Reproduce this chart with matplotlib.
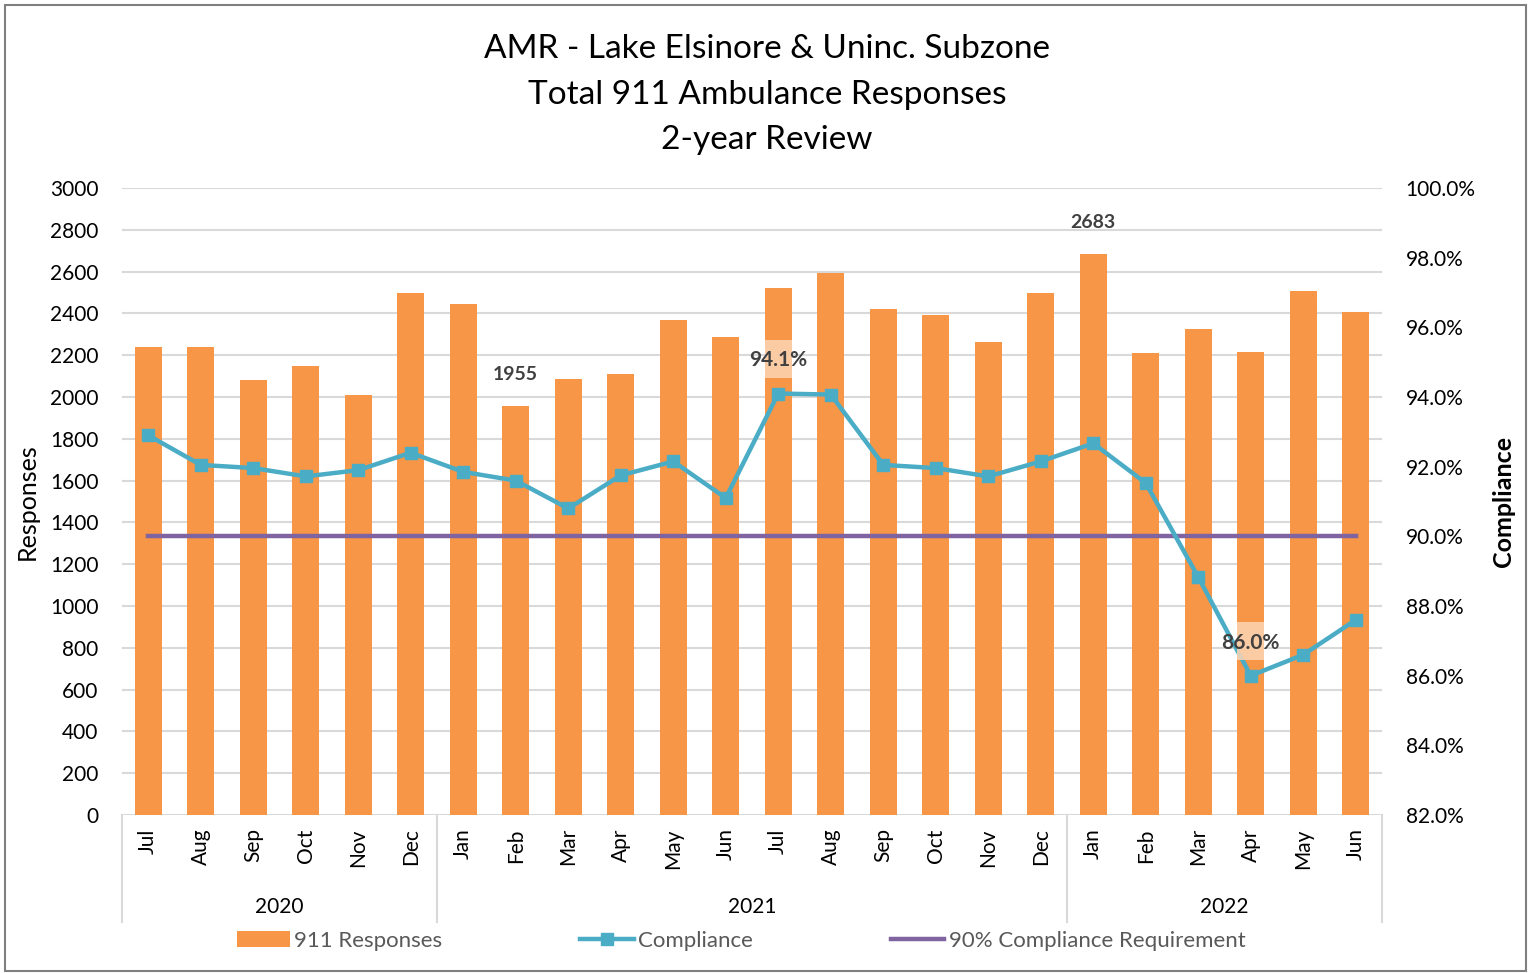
import matplotlib
matplotlib.use("Agg")
import matplotlib.pyplot as plt
from matplotlib.patches import Rectangle, Patch
from matplotlib.lines import Line2D
import matplotlib.transforms as mtransforms

plt.rcParams['font.family'] = ['Lato', 'DejaVu Sans']

months = ["Jul", "Aug", "Sep", "Oct", "Nov", "Dec",
          "Jan", "Feb", "Mar", "Apr", "May", "Jun", "Jul", "Aug", "Sep", "Oct", "Nov", "Dec",
          "Jan", "Feb", "Mar", "Apr", "May", "Jun"]
years = ["2020", "2021", "2022"]
year_counts = [6, 12, 6]
responses = [2240, 2240, 2080, 2150, 2010, 2500,
             2445, 1955, 2086, 2110, 2370, 2285, 2522, 2593, 2422, 2392, 2265, 2500,
             2683, 2210, 2325, 2215, 2507, 2407]
compliance = [92.9, 92.05, 91.96, 91.72, 91.9, 92.4,
              91.85, 91.6, 90.8, 91.75, 92.15, 91.1, 94.1, 94.07, 92.05, 91.96, 91.72, 92.15,
              92.67, 91.53, 88.83, 86.0, 86.6, 87.6]
requirement = [90.0] * 24
bar_labels = {7: "1955", 18: "2683"}
pct_labels = {12: "94.1%", 21: "86.0%"}

ORANGE = "#F79646"
BLUE = "#4BACC6"
PURPLE = "#8064A2"
TXT = "#000000"
LBL = "#404040"

fig = plt.figure(figsize=(15.28, 9.73), dpi=100)
ax = fig.add_axes([122/1528, 1-815/973, 1260/1528, 627/973])
ax2 = ax.twinx()

x = list(range(len(months)))
ax.bar(x, responses, width=0.51, color=ORANGE, zorder=2)
ax.set_xlim(-0.5, len(months)-0.5)
ax.set_ylim(0, 3000)
ax.set_yticks(range(0, 3001, 200))
ax.grid(axis='y', color='#D9D9D9', linewidth=1.5, zorder=0)
ax.set_axisbelow(True)
ax.set_xticks([])
ax.tick_params(axis='y', length=0, pad=17, labelsize=15, labelcolor=TXT)
for s in ax.spines.values():
    s.set_visible(False)
for s in ax2.spines.values():
    s.set_visible(False)

ax2.set_ylim(82, 100)
ax2.set_yticks([82 + 2*i for i in range(10)])
ax2.set_yticklabels([f"{82 + 2*i:.1f}%" for i in range(10)])
ax2.tick_params(axis='y', length=0, pad=17, labelsize=15, labelcolor=TXT)

ax2.plot(x, requirement, color=PURPLE, linewidth=3.2, zorder=3)
ax2.plot(x, compliance, color=BLUE, linewidth=3.2, marker='s', markersize=9, zorder=4)

# data labels
for i, t in bar_labels.items():
    ax.annotate(t, (i, responses[i]), xytext=(0, 17), textcoords='offset points',
                ha='center', va='bottom', fontsize=14, fontweight='bold', color=LBL, zorder=6)
for i, t in pct_labels.items():
    ax2.add_patch(Rectangle((i-0.26, compliance[i]+0.45), 0.52, 1.08,
                            facecolor='#FCD5B5', alpha=0.85, edgecolor='none', zorder=5))
    ax2.text(i, compliance[i]+0.95, t, ha='center', va='center', fontsize=15,
             fontweight='bold', color=LBL, zorder=6)

# axis labels
ax.set_ylabel("Responses", fontsize=18, color=TXT)
ax.yaxis.set_label_coords(-0.066, 0.5)
ax2.set_ylabel("Compliance", fontsize=18, fontweight='bold', color=TXT)
ax2.yaxis.set_label_coords(1.087, 0.5)

# multi-level category axis
trans = mtransforms.blended_transform_factory(ax.transData, ax.transAxes)
for i, m in enumerate(months):
    ax.text(i, -0.021, m, rotation=90, ha='center', va='top', fontsize=15,
            color=TXT, transform=trans)
pos = -0.5
seps = [pos]
for y, c in zip(years, year_counts):
    ax.text(pos + c/2, -0.147, y, ha='center', va='center', fontsize=15,
            color=TXT, transform=trans)
    pos += c
    seps.append(pos)
for s in seps:
    ax.plot([s, s], [0, -0.171], color='#D9D9D9', linewidth=1.5,
            transform=trans, clip_on=False)

# titles
for yy, t in zip([49, 95, 140], ["AMR - Lake Elsinore & Uninc. Subzone",
                                  "Total 911 Ambulance Responses",
                                  "2-year Review"]):
    fig.text(767/1528, 1-yy/973, t, ha='center', va='center', fontsize=24, color=TXT)

# legend
handles = [Patch(facecolor=ORANGE, edgecolor='none'),
           Line2D([0], [0], color=BLUE, linewidth=3.2, marker='s', markersize=9),
           Line2D([0], [0], color=PURPLE, linewidth=3.2)]
fig.legend(handles, ["911 Responses", "Compliance", "90% Compliance Requirement"],
           loc='center', bbox_to_anchor=(741/1528, 1-941/973), ncol=3, frameon=False,
           fontsize=16, handlelength=2.4, handletextpad=0.2, columnspacing=6.2,
           labelcolor='#595959')

# figure border
fig.add_artist(Rectangle((5/1528, 2/973), 1521/1528, 966/973, transform=fig.transFigure,
                         fill=False, edgecolor='#7F7F7F', linewidth=1.5))

fig.savefig("out.png", dpi=100)
